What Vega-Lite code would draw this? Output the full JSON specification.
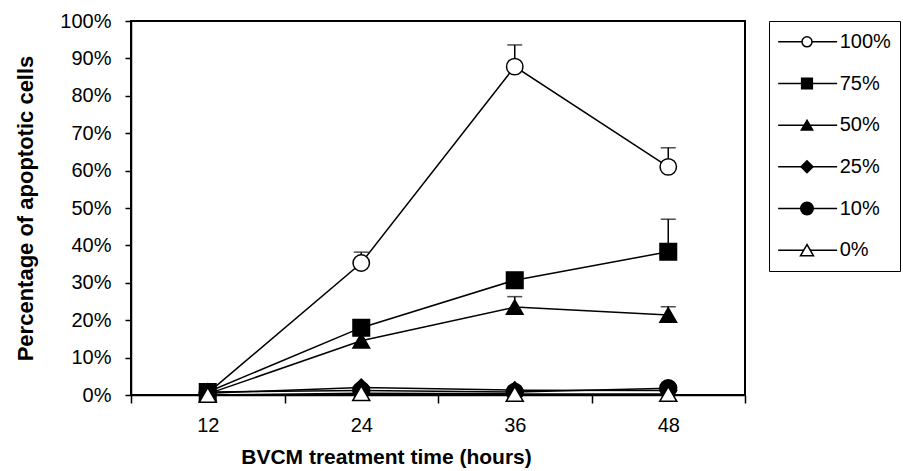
{
  "$schema": "https://vega.github.io/schema/vega-lite/v6.json",
  "background": "white",
  "padding": {"left": 13, "top": 10, "right": 1, "bottom": 5},
  "config": {
    "font": "Liberation Sans",
    "concat": {"spacing": 24},
    "axis": {"grid": false, "domainColor": "black", "tickColor": "black", "labelColor": "black", "titleColor": "black", "labelFont": "Liberation Sans", "titleFont": "Liberation Sans"}
  },
  "datasets": {
    "pts": [
      {"series": "100%", "time": "12", "value": 0.5, "upper": null},
      {"series": "100%", "time": "24", "value": 35.3, "upper": 38.2},
      {"series": "100%", "time": "36", "value": 87.8, "upper": 93.6},
      {"series": "100%", "time": "48", "value": 61.0, "upper": 66.1},
      {"series": "75%", "time": "12", "value": 0.8, "upper": null},
      {"series": "75%", "time": "24", "value": 18.0, "upper": null},
      {"series": "75%", "time": "36", "value": 30.7, "upper": null},
      {"series": "75%", "time": "48", "value": 38.3, "upper": 47.0},
      {"series": "50%", "time": "12", "value": 0.3, "upper": null},
      {"series": "50%", "time": "24", "value": 14.5, "upper": null},
      {"series": "50%", "time": "36", "value": 23.5, "upper": 26.3},
      {"series": "50%", "time": "48", "value": 21.4, "upper": 23.6},
      {"series": "25%", "time": "12", "value": 0.5, "upper": null},
      {"series": "25%", "time": "24", "value": 2.0, "upper": null},
      {"series": "25%", "time": "36", "value": 1.3, "upper": null},
      {"series": "25%", "time": "48", "value": 1.2, "upper": null},
      {"series": "10%", "time": "12", "value": 0.8, "upper": null},
      {"series": "10%", "time": "24", "value": 1.2, "upper": null},
      {"series": "10%", "time": "36", "value": 0.8, "upper": null},
      {"series": "10%", "time": "48", "value": 1.8, "upper": null},
      {"series": "0%", "time": "12", "value": 0.0, "upper": null},
      {"series": "0%", "time": "24", "value": 0.5, "upper": null},
      {"series": "0%", "time": "36", "value": 0.3, "upper": null},
      {"series": "0%", "time": "48", "value": 0.3, "upper": null}
    ],
    "leg": [
      {"series": "100%"}, {"series": "75%"}, {"series": "50%"}, {"series": "25%"}, {"series": "10%"}, {"series": "0%"}
    ]
  },
  "bounds": "flush",
  "resolve": {"scale": {"x": "independent", "y": "independent", "shape": "independent", "fill": "independent", "size": "independent"}},
  "hconcat": [
    {
      "width": 614,
      "height": 374,
      "data": {"name": "pts"},
      "view": {"stroke": "black", "strokeWidth": 2},
      "encoding": {
        "x": {
          "field": "time", "type": "ordinal",
          "scale": {"type": "band", "paddingInner": 0, "paddingOuter": 0},
          "axis": {
            "tickBand": "extent", "labelAngle": 0, "tickSize": 8, "tickWidth": 1.5, "domainWidth": 1.5,
            "labelFontSize": 20, "labelPadding": 12,
            "title": "BVCM treatment time (hours)", "titleFontSize": 21, "titleFontWeight": "bold",
            "titlePadding": 11, "titleX": 255
          }
        },
        "y": {
          "field": "value", "type": "quantitative",
          "scale": {"domain": [0, 100], "nice": false},
          "axis": {
            "values": [0, 10, 20, 30, 40, 50, 60, 70, 80, 90, 100],
            "labelExpr": "datum.value + '%'",
            "tickSize": 6, "tickWidth": 1.5, "domainWidth": 1.5,
            "labelFontSize": 20, "labelPadding": 14,
            "title": "Percentage of apoptotic cells", "titleFontSize": 22, "titleFontWeight": "bold",
            "titlePadding": 22
          }
        }
      },
      "layer": [
        {
          "transform": [{"filter": "datum.upper != null"}],
          "mark": {"type": "rule", "color": "black", "strokeWidth": 1.5},
          "encoding": {"y2": {"field": "upper"}}
        },
        {
          "transform": [{"filter": "datum.upper != null"}],
          "mark": {"type": "tick", "color": "black", "thickness": 1.5, "size": 15},
          "encoding": {"y": {"field": "upper", "type": "quantitative"}}
        },
        {
          "mark": {"type": "line", "color": "black", "strokeWidth": 1.5},
          "encoding": {"detail": {"field": "series"}}
        },
        {
          "mark": {"type": "point", "stroke": "black", "strokeWidth": 1.5, "opacity": 1, "filled": false},
          "encoding": {
            "shape": {"field": "series", "type": "nominal", "legend": null,
              "scale": {"domain": ["100%", "75%", "50%", "25%", "10%", "0%"], "range": ["circle", "square", "triangle-up", "diamond", "circle", "triangle-up"]}},
            "fill": {"field": "series", "type": "nominal", "legend": null,
              "scale": {"domain": ["100%", "75%", "50%", "25%", "10%", "0%"], "range": ["white", "black", "black", "black", "black", "white"]}},
            "size": {"field": "series", "type": "nominal", "legend": null,
              "scale": {"domain": ["100%", "75%", "50%", "25%", "10%", "0%"], "range": [270, 290, 380, 300, 260, 300]}}
          }
        }
      ]
    },
    {
      "width": 131,
      "height": 250,
      "data": {"name": "leg"},
      "view": {"stroke": "black", "strokeWidth": 1},
      "encoding": {
        "y": {"field": "series", "type": "nominal", "sort": ["100%", "75%", "50%", "25%", "10%", "0%"],
          "scale": {"type": "point", "padding": 0.5}, "axis": null}
      },
      "layer": [
        {
          "mark": {"type": "rule", "color": "black", "strokeWidth": 1.5},
          "encoding": {
            "x": {"datum": 0.07, "type": "quantitative", "scale": {"domain": [0, 1], "nice": false}, "axis": null},
            "x2": {"datum": 0.52}
          }
        },
        {
          "mark": {"type": "point", "stroke": "black", "strokeWidth": 1.5, "opacity": 1},
          "encoding": {
            "x": {"datum": 0.29, "type": "quantitative"},
            "shape": {"field": "series", "type": "nominal", "legend": null,
              "scale": {"domain": ["100%", "75%", "50%", "25%", "10%", "0%"], "range": ["circle", "square", "triangle-up", "diamond", "circle", "triangle-up"]}},
            "fill": {"field": "series", "type": "nominal", "legend": null,
              "scale": {"domain": ["100%", "75%", "50%", "25%", "10%", "0%"], "range": ["white", "black", "black", "black", "black", "white"]}},
            "size": {"field": "series", "type": "nominal", "legend": null,
              "scale": {"domain": ["100%", "75%", "50%", "25%", "10%", "0%"], "range": [100, 170, 230, 220, 140, 170]}}
          }
        },
        {
          "mark": {"type": "text", "align": "left", "baseline": "middle", "fontSize": 20, "font": "Liberation Sans", "color": "black"},
          "encoding": {
            "x": {"datum": 0.54, "type": "quantitative"},
            "text": {"field": "series"}
          }
        }
      ]
    }
  ]
}
